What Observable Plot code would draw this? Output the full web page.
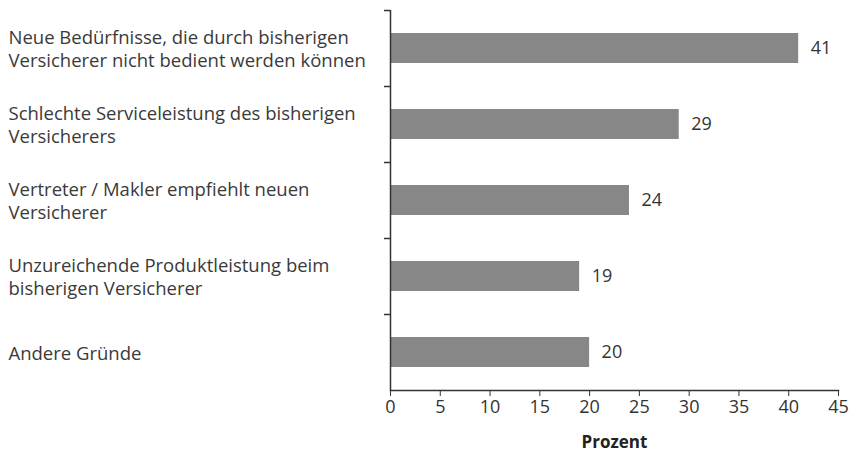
<!DOCTYPE html>
<html><head><meta charset="utf-8">
<script src="https://cdn.jsdelivr.net/npm/d3@7"></script>
<script src="https://cdn.jsdelivr.net/npm/@observablehq/plot@0.6"></script>
<style>body{margin:0;background:#fff;} svg{display:block;}</style>
</head><body><div id="chart"></div>
<script>
const categories = [
  "Neue Bedürfnisse, die durch bisherigen\nVersicherer nicht bedient werden können",
  "Schlechte Serviceleistung des bisherigen\nVersicherers",
  "Vertreter / Makler empfiehlt neuen\nVersicherer",
  "Unzureichende Produktleistung beim\nbisherigen Versicherer",
  "Andere Gründe"
];
const values = [41, 29, 24, 19, 20];
const xTicks = [0, 5, 10, 15, 20, 25, 30, 35, 40, 45];
const axisLabel = "Prozent";

const data = categories.map((c, i) => ({category: c, value: values[i]}));

const chart = Plot.plot({
  width: 853, height: 457,
  marginLeft: 390, marginRight: 15, marginTop: 10, marginBottom: 67,
  style: {fontFamily: "'Open Sans', sans-serif", fontSize: "17px", color: "#333", background: "#fff"},
  x: {domain: [0, 45], ticks: xTicks},
  y: {domain: categories, paddingInner: 0.6, paddingOuter: 0.3, axis: null},
  marks: [
    Plot.barX(data, {x: "value", y: "category", fill: "#878787"}),
    Plot.text(data, {x: "value", y: "category", text: d => String(d.value), textAnchor: "start", dx: 12, fill: "#333", fontSize: 18}),
    Plot.text(data, {y: "category", frameAnchor: "left", textAnchor: "start", dx: -382, text: "category", lineHeight: 1.25, fill: "#3a3a3a", fontSize: 18.5}),
    Plot.ruleX([0], {stroke: "#333", strokeWidth: 1.5}),
    Plot.ruleY(categories, {y: d => d, x1: -0.6, x2: 0, dy: -38, stroke: "#333", strokeWidth: 1.5}),
    Plot.frame({anchor: "bottom", stroke: "#333", strokeWidth: 1.5}),
    Plot.axisX({ticks: xTicks, tickSize: 6, tickPadding: 4, label: null, stroke: "#333", fill: "#333", fontSize: 18}),
    Plot.text([axisLabel], {frameAnchor: "bottom", dy: 57, text: d => d, fontWeight: "bold", fill: "#222", fontSize: 17})
  ]
});
document.getElementById("chart").appendChild(chart);
</script>
</body></html>
